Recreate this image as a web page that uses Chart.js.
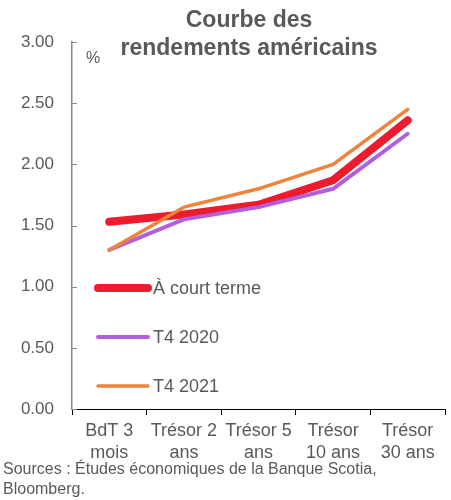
<!DOCTYPE html>
<html>
<head>
<meta charset="utf-8">
<script src="https://cdn.jsdelivr.net/npm/chart.js@4/dist/chart.umd.min.js"></script>
<style>
  html, body { margin: 0; padding: 0; background: #fff; }
  #wrap { position: relative; width: 451px; height: 500px; }
</style>
</head>
<body>
<div id="wrap"><canvas id="c" width="451" height="500"></canvas></div>
<script>
// Courbe des rendements américains
var categories = [['BdT 3', 'mois'], ['Trésor 2', 'ans'], ['Trésor 5', 'ans'], ['Trésor', '10 ans'], ['Trésor', '30 ans']];
var courtTerme = [1.53, 1.59, 1.67, 1.87, 2.36];
var t4_2020 = [1.30, 1.55, 1.65, 1.80, 2.25];
var t4_2021 = [1.30, 1.65, 1.80, 2.00, 2.45];
var titleLines = ['Courbe des', 'rendements américains'];
var sourceLines = ['Sources : Études économiques de la Banque Scotia,', 'Bloomberg.'];

var gray = '#595959';
var fontFam = '"Liberation Sans", Arial, sans-serif';

// title, unit, sources, inward y ticks and in-plot legend
var extras = {
  id: 'extras',
  afterDraw: function(chart) {
    var ctx = chart.ctx;
    var y = chart.scales.y;
    ctx.save();
    // y ticks pointing inward
    ctx.strokeStyle = '#888';
    ctx.lineWidth = 1;
    y.ticks.forEach(function(t) {
      var py = Math.round(y.getPixelForValue(t.value)) + 0.5;
      ctx.beginPath();
      ctx.moveTo(y.right, py);
      ctx.lineTo(y.right + 5, py);
      ctx.stroke();
    });

    ctx.fillStyle = gray;
    ctx.textAlign = 'center';
    ctx.textBaseline = 'middle';
    ctx.font = 'bold 23px ' + fontFam;
    ctx.fillText(titleLines[0], 249, 21);
    ctx.fillText(titleLines[1], 249, 49);

    ctx.font = '16px ' + fontFam;
    ctx.fillText('%', 93, 59);

    ctx.textAlign = 'left';
    ctx.font = '16px ' + fontFam;
    ctx.fillText(sourceLines[0], 3, 470);
    ctx.fillText(sourceLines[1], 3, 490);

    // legend
    var ys = [288, 337, 386];
    ctx.font = '18px ' + fontFam;
    chart.data.datasets.forEach(function(ds, i) {
      ctx.strokeStyle = ds.borderColor;
      ctx.lineWidth = ds.borderWidth;
      ctx.lineCap = 'round';
      ctx.beginPath();
      ctx.moveTo(98, ys[i]);
      ctx.lineTo(148, ys[i]);
      ctx.stroke();
      ctx.fillStyle = gray;
      ctx.fillText(ds.label, 153, ys[i] + 1);
    });
    ctx.restore();
  }
};

new Chart(document.getElementById('c'), {
  type: 'line',
  data: {
    labels: categories,
    datasets: [
      { label: 'À court terme', data: courtTerme, borderColor: '#EC1C2E', borderWidth: 8, order: 3 },
      { label: 'T4 2020', data: t4_2020, borderColor: '#B05FE0', borderWidth: 4, order: 2 },
      { label: 'T4 2021', data: t4_2021, borderColor: '#F0833A', borderWidth: 3.5, order: 1 }
    ]
  },
  options: {
    responsive: false,
    animation: false,
    layout: { padding: { top: 42, right: 6, left: 0, bottom: 0 } },
    elements: {
      point: { radius: 0 },
      line: { tension: 0, borderCapStyle: 'round', borderJoinStyle: 'round', fill: false }
    },
    plugins: { legend: { display: false }, title: { display: false }, tooltip: { enabled: false } },
    scales: {
      x: {
        offset: true,
        afterFit: function(s) { s.height = 91; },
        grid: { drawOnChartArea: false, tickLength: 6, color: '#000', offset: true },
        border: { color: '#000', width: 1 },
        ticks: { color: gray, padding: 5, maxRotation: 0, autoSkip: false,
                 font: { family: fontFam, size: 18, lineHeight: 1.22 } }
      },
      y: {
        min: 0, max: 3,
        afterFit: function(s) { s.width = 72; },
        grid: { drawOnChartArea: false, drawTicks: false },
        border: { color: '#888', width: 1.5 },
        ticks: { stepSize: 0.5, color: gray, padding: 18,
                 font: { family: fontFam, size: 17 },
                 callback: function(v) { return v.toFixed(2); } }
      }
    }
  },
  plugins: [extras]
});
</script>
</body>
</html>
